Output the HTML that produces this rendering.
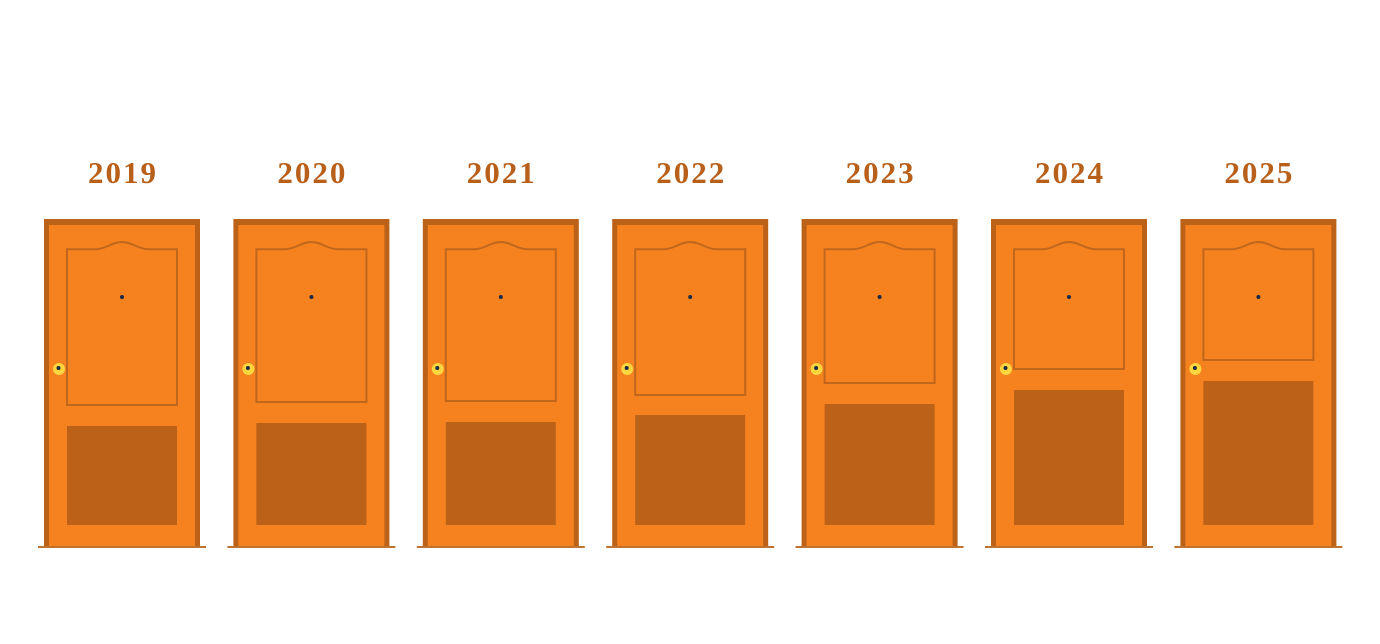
<!DOCTYPE html>
<html><head><meta charset="utf-8"><style>
html,body{margin:0;padding:0;background:#fff;}
svg{display:block}
text{font-family:"Liberation Serif",serif;font-weight:bold;font-size:31px;letter-spacing:2px;fill:#b85f1a;text-anchor:middle}
</style></head><body>
<svg width="1380" height="644" viewBox="0 0 1380 644" xmlns="http://www.w3.org/2000/svg">
<defs>
<g id="door">
<rect x="0" y="219" width="156" height="328" fill="#bb6118"/>
<rect x="5" y="225" width="146" height="322" fill="#f5821f"/>
<line x1="-6" y1="547" x2="162" y2="547" stroke="#c0732f" stroke-width="2"/>
<circle cx="15" cy="369" r="6" fill="#fbd63f"/>
<circle cx="14.5" cy="368" r="2" fill="#1a2a44"/>
<circle cx="78" cy="297" r="2" fill="#1a2a44"/>
</g>
</defs>
<g transform="translate(44,0)"><use href="#door"/><path d="M23,249.3 H52 C62,249 68,242 78,242 C88,242 94,249 104,249.3 H133 V405 H23 Z" fill="none" stroke="#c0671d" stroke-width="2"/><rect x="23" y="426" width="110" height="99" fill="#bb6118"/><text x="79" y="183">2019</text></g>
<g transform="translate(233.4,0)"><use href="#door"/><path d="M23,249.3 H52 C62,249 68,242 78,242 C88,242 94,249 104,249.3 H133 V402 H23 Z" fill="none" stroke="#c0671d" stroke-width="2"/><rect x="23" y="423" width="110" height="102" fill="#bb6118"/><text x="79" y="183">2020</text></g>
<g transform="translate(422.8,0)"><use href="#door"/><path d="M23,249.3 H52 C62,249 68,242 78,242 C88,242 94,249 104,249.3 H133 V401 H23 Z" fill="none" stroke="#c0671d" stroke-width="2"/><rect x="23" y="422" width="110" height="103" fill="#bb6118"/><text x="79" y="183">2021</text></g>
<g transform="translate(612.2,0)"><use href="#door"/><path d="M23,249.3 H52 C62,249 68,242 78,242 C88,242 94,249 104,249.3 H133 V395 H23 Z" fill="none" stroke="#c0671d" stroke-width="2"/><rect x="23" y="415" width="110" height="110" fill="#bb6118"/><text x="79" y="183">2022</text></g>
<g transform="translate(801.6,0)"><use href="#door"/><path d="M23,249.3 H52 C62,249 68,242 78,242 C88,242 94,249 104,249.3 H133 V383 H23 Z" fill="none" stroke="#c0671d" stroke-width="2"/><rect x="23" y="404" width="110" height="121" fill="#bb6118"/><text x="79" y="183">2023</text></g>
<g transform="translate(991,0)"><use href="#door"/><path d="M23,249.3 H52 C62,249 68,242 78,242 C88,242 94,249 104,249.3 H133 V369 H23 Z" fill="none" stroke="#c0671d" stroke-width="2"/><rect x="23" y="390" width="110" height="135" fill="#bb6118"/><text x="79" y="183">2024</text></g>
<g transform="translate(1180.4,0)"><use href="#door"/><path d="M23,249.3 H52 C62,249 68,242 78,242 C88,242 94,249 104,249.3 H133 V360 H23 Z" fill="none" stroke="#c0671d" stroke-width="2"/><rect x="23" y="381" width="110" height="144" fill="#bb6118"/><text x="79" y="183">2025</text></g>
</svg>
</body></html>
